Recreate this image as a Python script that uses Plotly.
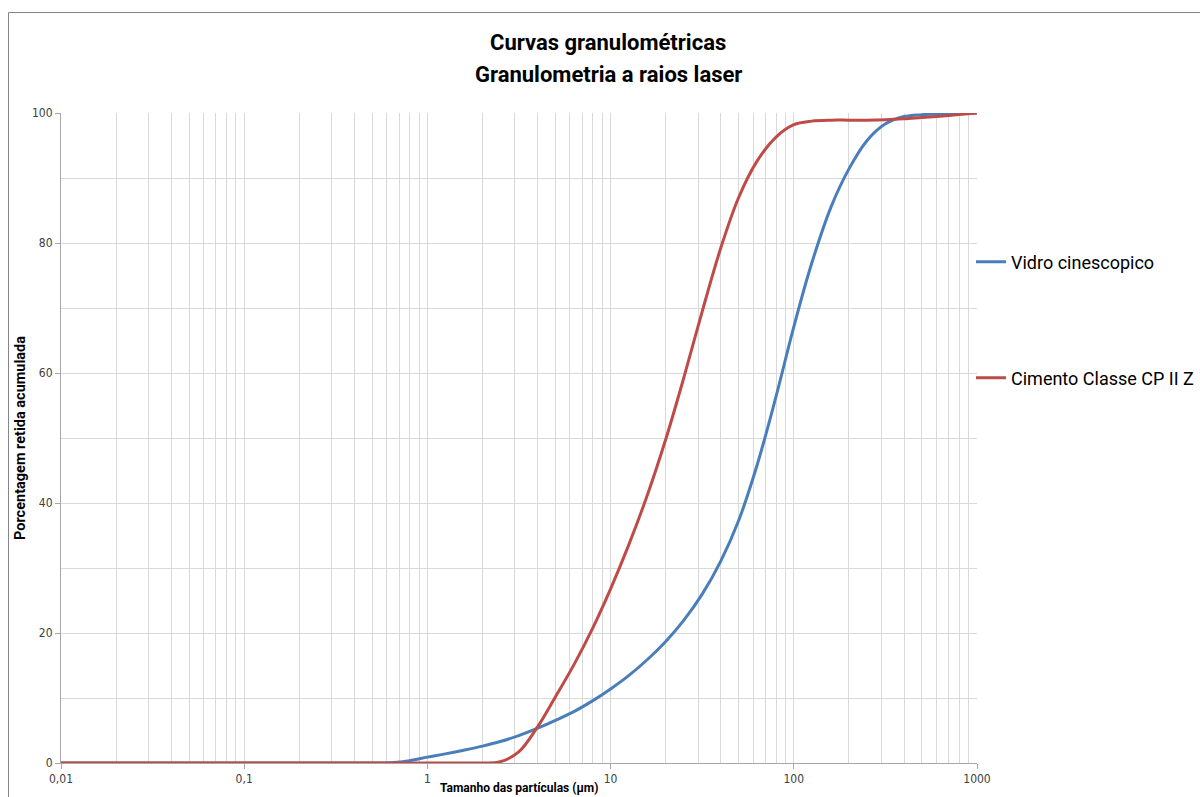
import plotly.graph_objects as go

# ---- data ----
vidro_x = [0.01, 0.1, 0.2, 0.25, 0.315, 0.4, 0.5, 0.63, 0.8, 1, 1.25, 1.6, 2, 2.5, 3.15, 4, 5,
           6.3, 8, 10, 12.5, 16, 20, 25, 31.5, 40, 50, 63, 80, 100, 125, 160, 200, 250, 315,
           400, 500, 630, 800, 1000]
vidro_y = [0, 0, 0, 0, 0, 0, 0, 0.05, 0.35, 0.9, 1.4, 2.0, 2.6, 3.3, 4.2, 5.35, 6.55,
           7.9, 9.6, 11.4, 13.4, 16.0, 18.7, 21.9, 25.9, 31.1, 37.3, 45.8, 56.4, 67.1, 76.8, 85.6,
           91.4, 95.7, 98.3, 99.45, 99.75, 99.9, 99.97, 100]

cimento_x = [0.01, 0.1, 1, 1.25, 1.6, 2, 2.5, 3.15, 4, 5, 6.3, 8, 10, 12.5, 16, 20, 25, 31.5,
             40, 50, 63, 80, 100, 125, 160, 200, 250, 315, 400, 500, 630, 800, 1000]
cimento_y = [0, 0, 0, 0, 0, 0, 0.2, 1.7, 5.6, 10.2, 15.1, 20.8, 26.8, 33.4, 41.5, 49.8, 59.1,
             69.3, 79.3, 87.0, 92.6, 96.3, 98.2, 98.75, 98.9, 98.9, 98.9, 98.95, 99.1, 99.3, 99.5,
             99.75, 100]

x_tickvals = [0.01, 0.1, 1, 10, 100, 1000]
x_ticktext = ["0,01", "0,1", "1", "10", "100", "1000"]

title_line1 = "Curvas granulométricas"
title_line2 = "Granulometria a raios laser"
x_title = "Tamanho das partículas (µm)"
y_title = "Porcentagem retida acumulada"

BLUE = "#4A7EBB"
RED = "#BE4B48"
GRID = "#D9D9D9"
NARROW = "Liberation Sans Narrow, Arial Narrow, Roboto, sans-serif"
TICKFONT = dict(family="DejaVu Sans Condensed, DejaVu Sans", size=12, color="#404040")

fig = go.Figure()
fig.add_trace(go.Scatter(x=vidro_x, y=vidro_y, mode="lines", name="Vidro cinescopico",
                         line=dict(color=BLUE, width=3, shape="spline", smoothing=1.0),
                         legend="legend"))
fig.add_trace(go.Scatter(x=cimento_x, y=cimento_y, mode="lines", name="Cimento Classe CP II Z",
                         line=dict(color=RED, width=3, shape="spline", smoothing=1.0),
                         legend="legend2"))

W, H = 1200, 797
L, R, T, B = 61, 977, 113, 763
pw, ph = R - L, B - T


def px_x(p):
    return (p - L) / pw


def px_y(p):
    return (B - p) / ph


legend_common = dict(xref="container", yref="container", xanchor="left", yanchor="middle",
                     font=dict(family=NARROW, size=18, color="#000000"),
                     bgcolor="rgba(0,0,0,0)", itemwidth=30)

fig.update_layout(
    width=W, height=H,
    margin=dict(l=L, r=W - R, t=T, b=H - B, autoexpand=False),
    paper_bgcolor="white", plot_bgcolor="white",
    showlegend=True,
    legend=dict(x=971 / W, y=1 - 262 / H, **legend_common),
    legend2=dict(x=971 / W, y=1 - 378 / H, **legend_common),
    xaxis=dict(type="log", range=[-2, 3], tickvals=x_tickvals, ticktext=x_ticktext,
               showgrid=True, gridcolor=GRID, gridwidth=1,
               ticks="outside", ticklen=5, tickcolor="#A6A6A6",
               showline=True, linecolor="#A6A6A6", linewidth=1,
               tickfont=TICKFONT,
               minor=dict(dtick="D1", showgrid=True, gridcolor=GRID, gridwidth=1, ticks=""),
               zeroline=False),
    yaxis=dict(range=[0, 100], dtick=20, tick0=0,
               showgrid=True, gridcolor=GRID, gridwidth=1,
               ticks="outside", ticklen=5, tickcolor="#A6A6A6",
               showline=True, linecolor="#A6A6A6", linewidth=1,
               tickfont=TICKFONT,
               minor=dict(dtick=10, showgrid=True, gridcolor=GRID, gridwidth=1, ticks=""),
               zeroline=False),
    shapes=[dict(type="rect", xref="paper", yref="paper",
                 x0=px_x(8.5), x1=px_x(1400), y0=px_y(1000), y1=px_y(12.5),
                 line=dict(color="#868686", width=1), fillcolor="rgba(0,0,0,0)", layer="below")],
    annotations=[
        dict(text="<b>" + title_line1 + "</b>", xref="paper", yref="paper",
             x=px_x(608), y=px_y(43), xanchor="center", yanchor="middle", showarrow=False,
             font=dict(family=NARROW, size=22, color="#000000")),
        dict(text="<b>" + title_line2 + "</b>", xref="paper", yref="paper",
             x=px_x(608), y=px_y(75), xanchor="center", yanchor="middle", showarrow=False,
             font=dict(family=NARROW, size=22, color="#000000")),
        dict(text="<b>" + x_title + "</b>", xref="paper", yref="paper",
             x=px_x(519), y=px_y(788), xanchor="center", yanchor="middle", showarrow=False,
             font=dict(family=NARROW, size=12, color="#000000")),
        dict(text="<b>" + y_title + "</b>", xref="paper", yref="paper",
             x=px_x(20), y=px_y(438), xanchor="center", yanchor="middle", showarrow=False,
             textangle=-90,
             font=dict(family=NARROW, size=14.5, color="#000000")),
    ],
)

fig.write_html("out.html")
